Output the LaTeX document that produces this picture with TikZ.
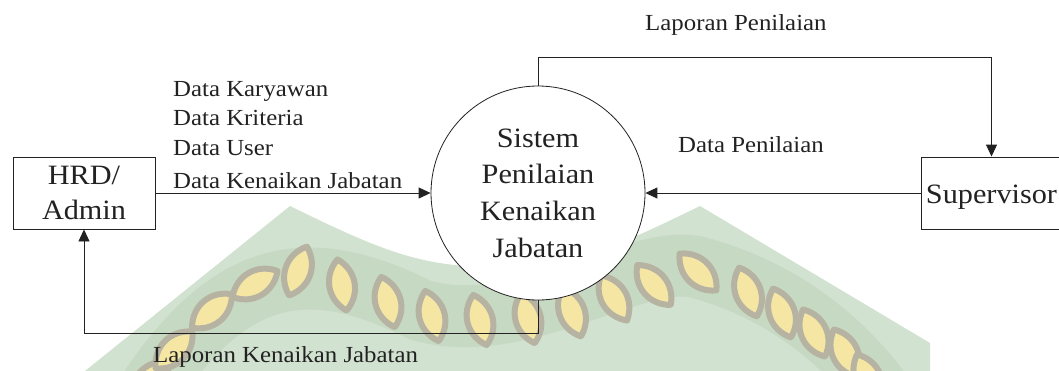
\documentclass[tikz,border=0pt]{standalone}
\usepackage{fontspec}
\setmainfont{Liberation Serif}[FakeStretch=1.08]
\usetikzlibrary{arrows.meta}
\definecolor{ink}{HTML}{222222}
\definecolor{wmgreen}{HTML}{D2E2D0}
\definecolor{wmband}{HTML}{C6DAC3}
\definecolor{wmgold}{HTML}{F5E6A4}
\definecolor{wmrim}{HTML}{B6B3A2}
\newcommand{\emblemoutline}{(80,375) -- (290,206)
    .. controls (380,250) and (420,267) .. (495,267)
    .. controls (570,267) and (610,250) .. (700,206)
    -- (930,343) -- (930,375) -- cycle}

\begin{document}
\begin{tikzpicture}[x=1pt,y=-1pt,
  entity/.style={draw=ink, line width=0.9pt, fill=white, minimum width=142pt,
    minimum height=72pt, inner sep=0pt, font=\fontsize{28}{35}\selectfont,
    text=ink, align=center},
  process/.style={draw=ink, line width=0.8pt, fill=white, circle,
    minimum size=214pt, inner sep=0pt, font=\fontsize{28}{36.7}\selectfont,
    text=ink, align=center},
  flowlabel/.style={font=\fontsize{23}{28}\selectfont, text=ink,
    anchor=base west, inner sep=0pt},
  flow/.style={draw=ink, line width=0.9pt, -{Triangle[length=12pt,width=11pt]}},
  petal/.style={fill=wmgold, draw=wmrim, line width=6pt, line join=round}]

\useasboundingbox (0,0) rectangle (1059,370);

% faint emblem in the background
\fill[wmgreen] \emblemoutline;
\begin{scope}
  \clip \emblemoutline;
  \draw[wmband, line width=62pt]
    (130,420) .. controls (220,270) and (300,250) .. (420,310)
    .. controls (520,340) and (640,250) .. (700,268)
    .. controls (780,290) and (850,340) .. (900,420);
\end{scope}
\foreach \px/\py/\pa in {
    150/380/45, 174/350/45, 212/311/40, 255/284/30, 298/271/70,
    342/285/100, 388/302/105, 432/316/105, 480/320/105, 528/318/105,
    572/312/110, 614/298/120, 654/285/130, 698/272/135, 748/292/110,
    782/313/110, 814/333/115, 845/353/115, 868/378/115}
  \draw[petal, shift={(\px,\py)}, rotate=\pa]
    (-26pt,0pt) .. controls (-12pt,17pt) and (12pt,17pt) .. (26pt,0pt)
    .. controls (12pt,-17pt) and (-12pt,-17pt) .. cycle;

% external entities and the process
\node[entity] (hrd) at (84,193) {HRD/\\Admin};
\node[entity, minimum width=141pt, text height=20pt, text depth=0pt]
  (sup) at (991.5,193) {Supervisor};
\node[process] (sys) at (538,193) {Sistem\\Penilaian\\Kenaikan\\Jabatan};

% data flow labels
\node[flowlabel] (lkar) at (173,96.7) {Data Karyawan};
\node[flowlabel] (lkri) at (173,125.7) {Data Kriteria};
\node[flowlabel] (lusr) at (173,155) {Data User};
\node[flowlabel] (lkj) at (173,188.3) {Data Kenaikan Jabatan};
\node[flowlabel] (ldp) at (678,152) {Data Penilaian};
\node[flowlabel] (llp) at (645,30) {Laporan Penilaian};
\node[flowlabel] (llkj) at (153,362) {Laporan Kenaikan Jabatan};

% data flows
\draw[flow] (hrd.east) -- (sys.west);
\draw[flow] (sup.west) -- (sys.east);
\coordinate (rtop) at (538,57);
\draw[flow] (sys.north) -- (rtop) -| (sup.north);
\coordinate (rbot) at (538,333);
\draw[flow] (sys.south) -- (rbot) -| (hrd.south);
\end{tikzpicture}
\end{document}
